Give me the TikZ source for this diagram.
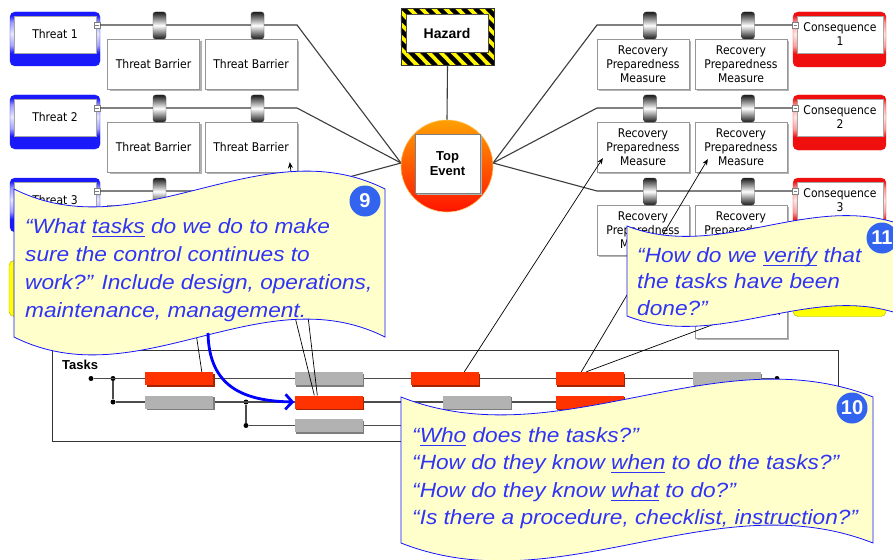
\documentclass[tikz,border=0pt]{standalone}
\usepackage{fontspec}
\usetikzlibrary{shadows,arrows.meta,calc}
\setmainfont{Liberation Sans}
\newfontfamily\diafont[FakeStretch=0.9]{DejaVu Sans}
\newfontfamily\notefont[FakeStretch=1.1]{Liberation Sans}

% underlined word
\newsavebox\undlbox
\newcommand{\undl}[1]{\sbox\undlbox{#1}\rlap{\rule[-3.6pt]{\wd\undlbox}{1.2pt}}\usebox\undlbox}

\definecolor{thrblue}{RGB}{25,25,250}
\definecolor{conred}{RGB}{240,15,15}
\definecolor{linegray}{RGB}{60,60,60}
\definecolor{boxline}{RGB}{150,150,150}
\definecolor{taskred}{RGB}{255,51,0}
\definecolor{taskredsh}{RGB}{165,35,0}
\definecolor{taskgray}{RGB}{178,178,178}
\definecolor{taskgraysh}{RGB}{125,125,125}
\definecolor{noteyellow}{RGB}{255,255,204}
\definecolor{noteline}{RGB}{20,20,255}
\definecolor{notecol}{RGB}{48,52,245}
\definecolor{badgeblue}{RGB}{50,100,240}
\definecolor{hazyellow}{RGB}{255,245,0}
\definecolor{ctlyellow}{RGB}{255,255,0}
\definecolor{teorange}{RGB}{255,160,0}
\definecolor{tered}{RGB}{255,20,0}

% frame shadings: solid band at the bottom, pale in the middle
\pgfdeclareverticalshading{threatshade}{100bp}{color(0bp)=(thrblue); color(37bp)=(thrblue); color(44bp)=(thrblue!40!white); color(55bp)=(thrblue!10!white); color(66bp)=(thrblue!45!white); color(72bp)=(thrblue); color(100bp)=(thrblue)}
\pgfdeclareverticalshading{conshade}{100bp}{color(0bp)=(conred); color(37bp)=(conred); color(44bp)=(conred!40!white); color(55bp)=(conred!10!white); color(66bp)=(conred!45!white); color(72bp)=(conred); color(100bp)=(conred)}

% wavy note: left, top, right, bottom, wave depth
\newcommand{\wavenote}[5]{%
  \path[note] (#1,#2) .. controls ({#1+(#3-#1)/3},{#2+#5}) and ({#1+2*(#3-#1)/3},{#2-#5}) .. (#3,#2)
    -- (#3,#4) .. controls ({#1+2*(#3-#1)/3},{#4-#5}) and ({#1+(#3-#1)/3},{#4+#5}) .. (#1,#4) -- cycle;}

\begin{document}
\begin{tikzpicture}[x=1pt,y=-1pt,
  conn/.style={draw=linegray, line width=1.1pt},
  ptr/.style={draw=black, line width=0.7pt, -{Stealth[length=6pt,width=5pt]}},
  threatbox/.style={shading=threatshade, draw=thrblue, rounded corners=5pt, minimum width=90, minimum height=54, inner sep=0},
  conbox/.style={shading=conshade, draw=conred, rounded corners=5pt, minimum width=93, minimum height=55, inner sep=0},
  innerbox/.style={draw=gray!70, fill=white, minimum width=82, minimum height=37, inner sep=0, font=\diafont\fontsize{12}{14}\selectfont, align=center},
  minisq/.style={draw=gray, fill=white, minimum size=6, inner sep=0,
    path picture={\draw[line width=0.4pt] ([xshift=1.2pt]path picture bounding box.west) -- ([xshift=-1.2pt]path picture bounding box.east);}},
  barrier/.style={draw=boxline, fill=white, minimum width=92, minimum height=50, inner sep=0, align=center,
    font=\diafont\fontsize{12}{14}\selectfont, drop shadow={shadow xshift=2pt, shadow yshift=-2pt, fill=black!30, opacity=1}},
  cylnode/.style={minimum width=13, minimum height=27, inner sep=0, rounded corners=2.5pt, top color=black!90, bottom color=black!90, middle color=white, draw=black!70, line width=0.4pt},
  yelbox/.style={fill=ctlyellow, draw=ctlyellow!70!black, rounded corners=5pt, minimum width=91, minimum height=56, inner sep=0},
  redbar/.style={fill=taskred, minimum width=68, minimum height=13, inner sep=0, drop shadow={shadow xshift=1.5pt, shadow yshift=-1.5pt, fill=taskredsh, opacity=1}},
  graybar/.style={fill=taskgray, minimum width=68, minimum height=13, inner sep=0, drop shadow={shadow xshift=1.5pt, shadow yshift=-1.5pt, fill=taskgraysh, opacity=1}},
  taskline/.style={draw=black!70, line width=1.4pt},
  dot/.style={circle, fill=black, minimum size=5, inner sep=0},
  note/.style={draw=noteline, fill=noteyellow, line width=0.8pt},
  notetxt/.style={text=notecol, font=\notefont\itshape\fontsize{20.6}{28}\selectfont, align=left, inner sep=0, anchor=north west},
  badge/.style={circle, fill=badgeblue, minimum size=31, inner sep=0, text=white, font=\bfseries\fontsize{20}{20}\selectfont},
  bluearrow/.style={draw=blue, line width=2.8pt, -{Straight Barb[length=7pt,width=15pt]}}
]
\useasboundingbox[fill=white] (0,0) rectangle (893,559);

\coordinate (tl) at (401,163);
\coordinate (tr) at (493,163);

% threats and their barriers (third row's barriers sit under a note)
\foreach \i/\dy/\lbl in {1/0/Threat Barrier,2/83/Threat Barrier,3/166/{}}{
  \coordinate (k\i) at (297,25+\dy);
  \node[threatbox] (t\i) at (55,39+\dy) {};
  \node[innerbox] (ti\i) at (55,34.5+\dy) {Threat \i};
  \node[minisq] (ts\i) at (97,25+\dy) {};
  \draw[conn] (ts\i.east) -- (k\i) -- (tl);
  \node[barrier] (tb\i a) at (153.5,64+\dy) {\lbl};
  \node[barrier] (tb\i b) at (251,64+\dy) {\lbl};
  \node[cylnode] (ba\i) at (159.5,25.5+\dy) {};
  \node[cylnode] (bb\i) at (257.5,25.5+\dy) {};
}

% consequences and recovery measures
\foreach \i/\dy in {1/0,2/83,3/166}{
  \coordinate (kr\i) at (597,25+\dy);
  \node[conbox] (c\i) at (839.5,39.5+\dy) {};
  \node[innerbox, minimum width=86] (ci\i) at (840,34.5+\dy) {Consequence\\\i};
  \node[minisq] (cs\i) at (795.5,25+\dy) {};
  \draw[conn] (tr) -- (kr\i) -- (cs\i.west);
  \node[barrier] (rb\i a) at (643,64+\dy) {Recovery\\Preparedness\\Measure};
  \node[barrier] (rb\i b) at (741,64+\dy) {Recovery\\Preparedness\\Measure};
  \node[cylnode] (ra\i) at (650,25.5+\dy) {};
  \node[cylnode] (rr\i) at (748,25.5+\dy) {};
}

% hazard sign
\node[minimum width=93, minimum height=56, inner sep=0] (hz) at (447.5,37) {};
\begin{scope}
  \clip (hz.north west) rectangle (hz.south east);
  \fill[hazyellow] (hz.north west) rectangle (hz.south east);
  \foreach \s in {-70,-58,...,100}
    \draw[line width=4.5pt] (401+\s,8) -- (401+\s+57,66);
\end{scope}
\draw[black!80, line width=0.6pt] (hz.north west) rectangle (hz.south east);
\node[draw=black!70, fill=white, minimum width=82, minimum height=38, inner sep=0,
  font=\bfseries\fontsize{14}{14}\selectfont] (hzin) at (447,33) {Hazard};

% top event
\node[circle, minimum size=92, inner sep=0, top color=teorange, bottom color=tered, draw=teorange!60!white, line width=0.6pt] (tec) at (447,166) {};
\draw[conn] (hz.south) -- (tec.north);
\node[draw=gray, fill=white, minimum width=65, minimum height=59, inner sep=0, align=center,
  font=\bfseries\fontsize{13}{15}\selectfont, drop shadow={shadow xshift=2pt, shadow yshift=-2pt, fill=black!30, opacity=1}] (te) at (447.5,163.5) {Top\\Event};

% fourth row (mostly covered by notes)
\node[yelbox] (y4l) at (54.5,288.5) {};
\node[yelbox, minimum width=93] (y4r) at (839.5,288.5) {};
\node[barrier] (ctl) at (741,313) {};
\node[anchor=base east, inner sep=0, font=\diafont\fontsize{12}{14}\selectfont] (ctltxt) at (781,315) {Control};

% task overview
\node[draw=black!80, line width=0.8pt, minimum width=786, minimum height=91, inner sep=0, anchor=north west] (tasks) at (52,350) {};
\node[anchor=base west, inner sep=0, font=\bfseries\fontsize{13}{13}\selectfont] (tasklbl) at (62,369) {Tasks};
\node[dot] (d0) at (91,378.5) {};
\node[dot] (d1) at (113,378.5) {};
\node[dot] (d2) at (113,402) {};
\node[dot] (d3) at (246,402) {};
\node[dot] (d4) at (246,425.5) {};
\node[dot] (d5) at (777,378.5) {};
\coordinate (e2) at (785,402);
\coordinate (e3) at (700,425.5);
\draw[taskline] (d0) -- (d5);
\draw[taskline] (d1) -- (d2);
\draw[taskline] (d2) -- (e2);
\draw[taskline] (d3) -- (d4);
\draw[taskline] (d4) -- (e3);

\node[redbar]  (r1a) at (179,378.5) {};
\node[graybar] (r1b) at (328.5,378.5) {};
\node[redbar]  (r1c) at (444.5,378.5) {};
\node[redbar]  (r1d) at (589.5,378.5) {};
\node[graybar] (r1e) at (726.5,378.5) {};
\node[graybar] (r2a) at (179,402) {};
\node[redbar]  (r2b) at (328.5,402) {};
\node[graybar] (r2c) at (476.5,402) {};
\node[redbar]  (r2d) at (589.5,402) {};
\node[graybar] (r3a) at (328.5,425.5) {};

% tasks pointing at the controls they support
\draw[ptr] ($(r1a.north west)+(57,0)$) -- ($(tb3a.south west)+(77,0)$);
\draw[ptr] ($(r2b.north west)+(20,0)$) -- ($(tb3b.south west)+(75,0)$);
\draw[ptr] ($(r2b.north west)+(23,0)$) -- ($(tb2b.south west)+(85,-10)$);
\draw[ptr] ($(r1c.north west)+(54,0)$) -- ($(rb2a.south west)+(6,-14)$);
\draw[ptr] ($(r1d.north west)+(26,0)$) -- ($(rb2b.south west)+(13,-13)$);
\draw[ptr] ($(r1d.north west)+(31,0)$) -- ($(ctl.south west)+(30,-18)$);

% question notes
\wavenote{14}{189}{385}{337}{62}
\wavenote{627}{226}{905}{316}{36}
\wavenote{401}{397}{873}{543}{62}

\coordinate (c9out) at (208,333);
\draw[bluearrow] (c9out) .. controls (209,388) and (245,401) .. (r2b.west);

\node[notetxt] (q9) at (25,218) {“What \undl{tasks} do we do to make\\sure the control continues to\\work?” Include design, operations,\\maintenance, management.};
\node[notetxt, font=\notefont\itshape\fontsize{20.6}{26.5}\selectfont] (q11) at (637,247) {“How do we \undl{verify} that\\the tasks have been\\done?”};
\node[notetxt, font=\notefont\itshape\fontsize{20.6}{27.5}\selectfont] (q10) at (412,427) {“\undl{Who} does the tasks?”\\“How do they know \undl{when} to do the tasks?”\\“How do they know \undl{what} to do?”\\“Is there a procedure, checklist, instruction?”};

\node[badge] (n9) at (365,201) {9};
\node[badge] (n10) at (852,408) {10};
\node[badge] (n11) at (882,238) {11};
\end{tikzpicture}
\end{document}
